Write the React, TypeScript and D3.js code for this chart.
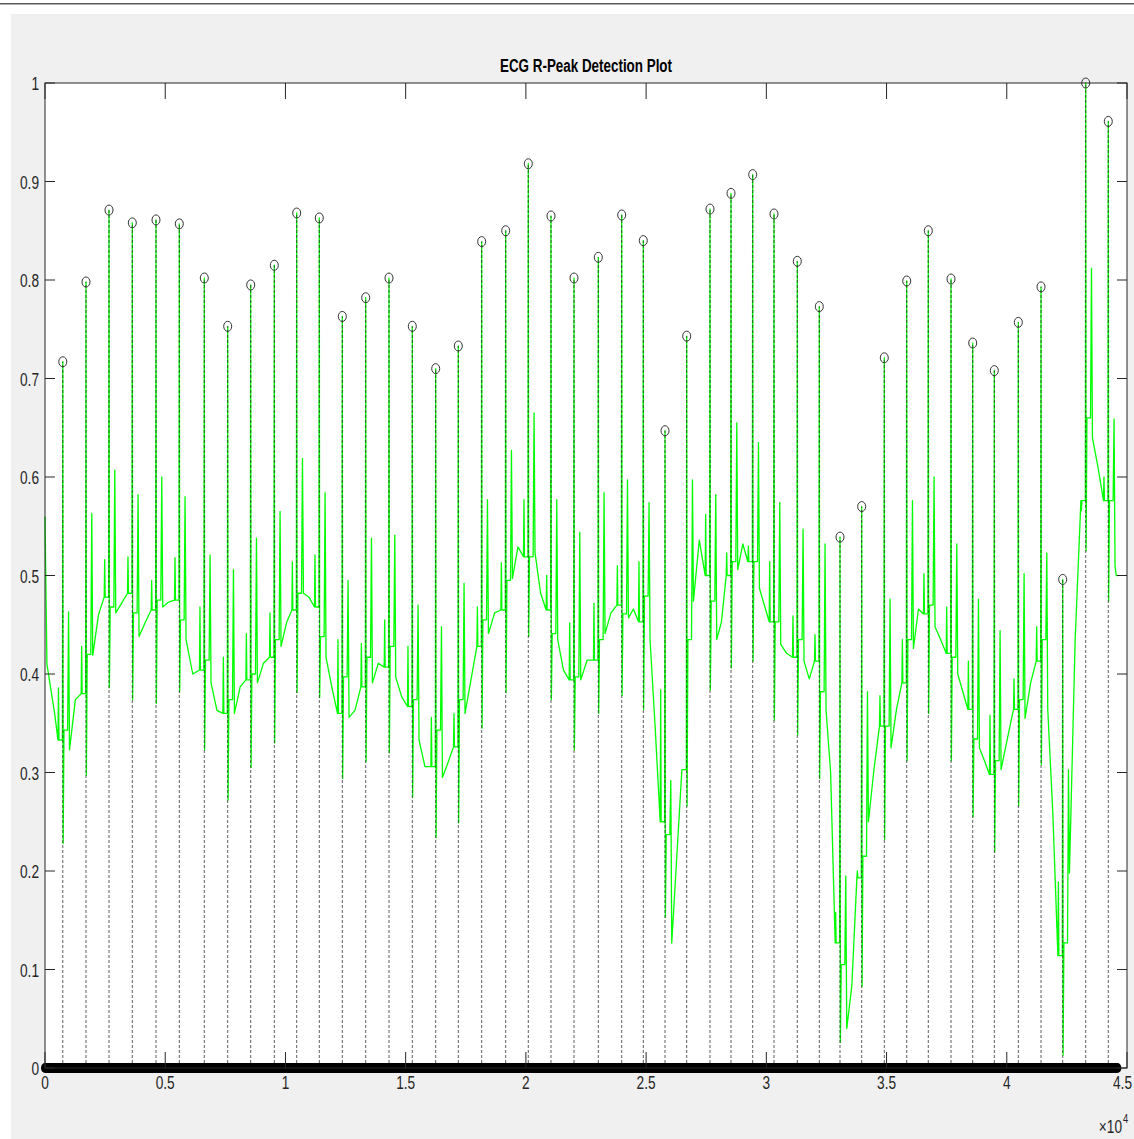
import React from "react";
import * as d3 from "d3";

// R-peak sample index and amplitude
const peakIdx = [740, 1705, 2662, 3631, 4616, 5586, 6625, 7598, 8555, 9537, 10468, 11408, 12365, 13338, 14307, 15276, 16249, 17189, 18162, 19160, 20100, 21044, 22001, 23012, 23985, 24883, 25786, 26688, 27657, 28531, 29433, 30319, 31288, 32203, 33064, 33966, 34906, 35838, 36736, 37681, 38583, 39482, 40480, 41424, 42326, 43283, 44222];
const peakVal = [0.717, 0.798, 0.871, 0.858, 0.861, 0.857, 0.802, 0.753, 0.795, 0.815, 0.868, 0.863, 0.763, 0.782, 0.802, 0.753, 0.71, 0.733, 0.839, 0.85, 0.918, 0.865, 0.802, 0.823, 0.866, 0.84, 0.647, 0.743, 0.872, 0.888, 0.907, 0.867, 0.819, 0.773, 0.539, 0.57, 0.721, 0.799, 0.85, 0.801, 0.736, 0.708, 0.757, 0.793, 0.496, 1.0, 0.961];

// ECG waveform levels around each beat
const preBase = [0.333, 0.38, 0.478, 0.482, 0.465, 0.475, 0.404, 0.36, 0.394, 0.417, 0.465, 0.468, 0.36, 0.387, 0.407, 0.367, 0.306, 0.326, 0.428, 0.465, 0.519, 0.465, 0.394, 0.414, 0.47, 0.453, 0.25, 0.303, 0.5, 0.5, 0.514, 0.453, 0.417, 0.413, 0.127, 0.193, 0.347, 0.391, 0.461, 0.421, 0.364, 0.298, 0.364, 0.413, 0.114, 0.576, 0.576];
const pTop = [0.386, 0.428, 0.516, 0.519, 0.495, 0.518, 0.468, 0.417, 0.441, 0.462, 0.514, 0.521, 0.435, 0.431, 0.455, 0.428, 0.356, 0.36, 0.468, 0.513, 0.577, 0.5, 0.452, 0.472, 0.51, 0.514, 0.384, 0.303, 0.562, 0.523, 0.53, 0.514, 0.459, 0.44, 0.158, 0.2, 0.378, 0.435, 0.502, 0.468, 0.413, 0.358, 0.395, 0.448, 0.189, 0.566, 0.6];
const sDip = [0.228, 0.297, 0.386, 0.374, 0.37, 0.382, 0.323, 0.272, 0.305, 0.33, 0.381, 0.376, 0.294, 0.311, 0.32, 0.275, 0.234, 0.249, 0.345, 0.381, 0.438, 0.374, 0.323, 0.36, 0.378, 0.364, 0.153, 0.266, 0.384, 0.406, 0.413, 0.353, 0.338, 0.294, 0.026, 0.083, 0.232, 0.312, 0.36, 0.312, 0.255, 0.219, 0.266, 0.308, 0.013, 0.525, 0.474];
const postBase = [0.343, 0.42, 0.468, 0.462, 0.475, 0.455, 0.414, 0.374, 0.4, 0.435, 0.482, 0.438, 0.397, 0.417, 0.428, 0.374, 0.343, 0.374, 0.455, 0.495, 0.519, 0.441, 0.397, 0.435, 0.461, 0.479, 0.237, 0.435, 0.474, 0.514, 0.514, 0.453, 0.435, 0.382, 0.105, 0.215, 0.347, 0.435, 0.47, 0.417, 0.334, 0.312, 0.374, 0.435, 0.127, 0.66, 0.576];
const tTop = [0.463, 0.563, 0.607, 0.582, 0.6, 0.58, 0.521, 0.506, 0.538, 0.565, 0.619, 0.584, 0.495, 0.538, 0.541, 0.47, 0.448, 0.492, 0.577, 0.627, 0.665, 0.577, 0.544, 0.584, 0.597, 0.574, 0.292, 0.597, 0.582, 0.655, 0.635, 0.574, 0.547, 0.532, 0.195, 0.382, 0.476, 0.576, 0.6, 0.532, 0.476, 0.444, 0.502, 0.523, 0.303, 0.812, 0.659];
const tEnd = [0.323, 0.419, 0.462, 0.438, 0.468, 0.435, 0.391, 0.36, 0.391, 0.428, 0.482, 0.417, 0.356, 0.391, 0.397, 0.333, 0.295, 0.36, 0.441, 0.497, 0.523, 0.435, 0.394, 0.441, 0.457, 0.435, 0.127, 0.474, 0.435, 0.506, 0.487, 0.43, 0.413, 0.364, 0.04, 0.25, 0.325, 0.426, 0.448, 0.4, 0.325, 0.303, 0.355, 0.364, 0.198, 0.64, 0.51];
const gapLevel = [0.374, 0.46, 0.472, 0.452, 0.473, 0.4, 0.363, 0.387, 0.411, 0.452, 0.478, 0.387, 0.363, 0.411, 0.377, 0.306, 0.31, 0.394, 0.462, 0.529, 0.482, 0.404, 0.414, 0.462, 0.466, 0.347, 0.215, 0.536, 0.453, 0.532, 0.47, 0.421, 0.395, 0.3, 0.083, 0.303, 0.364, 0.466, 0.435, 0.382, 0.312, 0.334, 0.391, 0.259, 0.435, 0.61, 0.5];

// start of the record and its length
const leadX = [0, 80, 400];
const leadY = [0.56, 0.41, 0.36];
const signalEnd = 44600;

const xTicks = [0, 5000, 10000, 15000, 20000, 25000, 30000, 35000, 40000, 45000];
const xTickLabels = ["0", "0.5", "1", "1.5", "2", "2.5", "3", "3.5", "4", "4.5"];
const yTicks = [0, 0.1, 0.2, 0.3, 0.4, 0.5, 0.6, 0.7, 0.8, 0.9, 1];
const yTickLabels = ["0", "0.1", "0.2", "0.3", "0.4", "0.5", "0.6", "0.7", "0.8", "0.9", "1"];

const W = 1134;
const H = 1139;
const L = 45, R = 1127, T = 83, B = 1068;
const font = "'Liberation Sans', Arial, Helvetica, sans-serif";
const ink = "#262626";
const squeeze = 0.72;

const buildSignal = () => {
  const pts: [number, number][] = leadX.map((x, i) => [x, leadY[i]]);
  peakIdx.forEach((r, i) => {
    pts.push(
      [r - 200, preBase[i]],
      [r - 180, pTop[i]],
      [r - 160, preBase[i]],
      [r - 15, preBase[i]],
      [r, peakVal[i]],
      [r + 15, sDip[i]],
      [r + 50, postBase[i]],
      [r + 200, postBase[i]],
      [r + 240, tTop[i]],
      [r + 280, tEnd[i]]
    );
    const next = i < peakIdx.length - 1 ? peakIdx[i + 1] - 200 : signalEnd;
    pts.push([(r + 280 + next) / 2, gapLevel[i]]);
  });
  pts.push([signalEnd, gapLevel[gapLevel.length - 1]]);
  return pts;
};

const App = () => {
  const x = d3.scaleLinear().domain([0, 45000]).range([L, R]);
  const y = d3.scaleLinear().domain([0, 1]).range([B, T]);

  const line = d3
    .line<[number, number]>()
    .x((d) => x(d[0]))
    .y((d) => y(d[1]));
  const signalPath = line(buildSignal()) || "";

  return (
    <svg
      width={W}
      height={H}
      style={{ position: "absolute", left: 0, top: 0, display: "block" }}
      fontFamily={font}
    >
      <rect x={0} y={0} width={W} height={H} fill="#fff" />
      <line x1={0} x2={W} y1={3.8} y2={3.8} stroke="#5a5a5a" strokeWidth={1.4} />
      <rect x={11} y={14} width={W - 11} height={H - 14} fill="#f0f0f0" />

      {/* axes area */}
      <rect x={L} y={T} width={R - L} height={B - T} fill="#fff" />

      <defs>
        <clipPath id="plotClip">
          <rect x={L - 6} y={T - 8} width={R - L + 12} height={B - T + 16} />
        </clipPath>
      </defs>

      <g clipPath="url(#plotClip)">
        {/* ECG signal */}
        <path d={signalPath} fill="none" stroke="#00ff00" strokeWidth={1.3} strokeLinejoin="round" />

        {/* stems of detected R peaks */}
        {peakIdx.map((p, i) => (
          <line
            key={"s" + i}
            x1={x(p)}
            x2={x(p)}
            y1={y(0)}
            y2={y(peakVal[i])}
            stroke="#333"
            strokeWidth={0.8}
            strokeDasharray="3,2"
          />
        ))}
        {peakIdx.map((p, i) => (
          <ellipse
            key={"m" + i}
            cx={x(p)}
            cy={y(peakVal[i])}
            rx={4}
            ry={5}
            fill="none"
            stroke="#333"
            strokeWidth={1}
          />
        ))}

        {/* zero-valued stem markers at every other sample */}
        <rect
          x={x(0) - 4}
          y={y(0) - 5}
          width={x(signalEnd) - x(0) + 8}
          height={10}
          rx={4}
          ry={5}
          fill="#000"
        />
      </g>

      {/* box */}
      <rect x={L} y={T} width={R - L} height={B - T} fill="none" stroke={ink} strokeWidth={1} />

      {/* x ticks */}
      {xTicks.map((t, i) => {
        const last = i === xTicks.length - 1;
        return (
          <g key={"xt" + i}>
            <line x1={x(t)} x2={x(t)} y1={B} y2={B - 16} stroke={ink} strokeWidth={1} />
            <line x1={x(t)} x2={x(t)} y1={T} y2={T + 16} stroke={ink} strokeWidth={1} />
            <text
              transform={`translate(${last ? W - 2 : x(t)},${B + 21}) scale(${squeeze},1)`}
              textAnchor={last ? "end" : "middle"}
              fontSize={19}
              fill={ink}
            >
              {xTickLabels[i]}
            </text>
          </g>
        );
      })}

      {/* y ticks */}
      {yTicks.map((t, i) => (
        <g key={"yt" + i}>
          <line x1={L} x2={L + 10} y1={y(t)} y2={y(t)} stroke={ink} strokeWidth={1} />
          <line x1={R} x2={R - 10} y1={y(t)} y2={y(t)} stroke={ink} strokeWidth={1} />
          <text
            transform={`translate(${L - 6},${y(t) + 7}) scale(${squeeze},1)`}
            textAnchor="end"
            fontSize={19}
            fill={ink}
          >
            {yTickLabels[i]}
          </text>
        </g>
      ))}

      {/* exponent */}
      <text transform={`translate(1122,1133) scale(${squeeze},1)`} textAnchor="end" fontSize={19} fill={ink}>
        ×10
      </text>
      <text transform={`translate(1123,1123) scale(${squeeze},1)`} fontSize={13} fill={ink}>
        4
      </text>

      {/* title */}
      <text
        x={(L + R) / 2}
        y={72}
        textAnchor="middle"
        fontSize={18}
        fontWeight="bold"
        fill="#000"
        textLength={172}
        lengthAdjust="spacingAndGlyphs"
      >
        ECG R-Peak Detection Plot
      </text>
    </svg>
  );
};

export default App;
